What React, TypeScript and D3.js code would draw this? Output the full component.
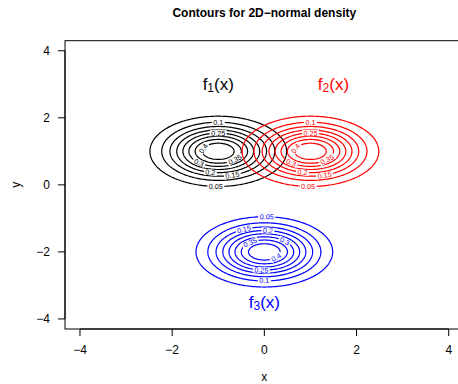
import React from "react";
import * as d3 from "d3";

const W = 458;
const H = 384;

// distributions
const meanX = [-1, 1, 0];
const meanY = [1, 1, -2];
const varX = [0.5, 0.5, 0.5];
const varY = [0.25, 0.25, 0.25];
const colors = ["black", "red", "blue"];
const levels = [0.05, 0.1, 0.15, 0.2, 0.25, 0.3, 0.35, 0.4];
// angle (deg) on each contour ellipse where R put the level label
const labelAngles = [
  [-92, 90, -73, -101, 90, -131, -44, 160],
  [-92, 90, -73, -101, 90, -131, -44, 160],
  [88, -90, 115, 85, -95, 46, 128, -42],
];
const fSubs = ["1", "2", "3"];
const fX = [-1, 1.5, 0];
const fY = [3, 3, -3.5];
const xTicks = [-4, -2, 0, 2, 4];
const yTicks = [-4, -2, 0, 2, 4];

const FONT = "'Liberation Sans', Arial, Helvetica, sans-serif";
const L = 65, R = 463.7, T = 40.7, B = 329;

const xs = d3.scaleLinear().domain([-4.325, 4.325]).range([L, R]);
const ys = d3.scaleLinear().domain([-4.3, 4.3]).range([B, T]);

const N = 300;
const G0 = -4.4, G1 = 4.4;
const step = (G1 - G0) / (N - 1);

function density(k: number, x: number, y: number) {
  const sx = Math.sqrt(varX[k]), sy = Math.sqrt(varY[k]);
  const dx = (x - meanX[k]) / sx, dy = (y - meanY[k]) / sy;
  return Math.exp(-0.5 * (dx * dx + dy * dy)) / (2 * Math.PI * sx * sy);
}

const fmt = (v: number) => String(v);
const charW = (s: string) =>
  s.split("").reduce((a, c) => a + (c === "." ? 0.278 : 0.556), 0);
const LFS = 7.2;

export default function App() {
  const geo = d3.geoPath(
    d3.geoTransform({
      point(u: number, v: number) {
        (this as any).stream.point(
          xs(G0 + (u - 0.5) * step),
          ys(G1 - (v - 0.5) * step)
        );
      },
    })
  );

  const groups = colors.map((col, k) => {
    const vals = new Array(N * N);
    for (let j = 0; j < N; j++) {
      const y = G1 - j * step;
      for (let i = 0; i < N; i++) {
        vals[j * N + i] = density(k, G0 + i * step, y);
      }
    }
    const cs = d3.contours().size([N, N]).thresholds(levels)(vals);
    const sx = Math.sqrt(varX[k]), sy = Math.sqrt(varY[k]);
    const P = 1 / (2 * Math.PI * sx * sy);
    const labels = levels.map((lv, li) => {
      const r = Math.sqrt(2 * Math.log(P / lv));
      const t = (labelAngles[k][li] * Math.PI) / 180;
      const px = xs(meanX[k] + sx * r * Math.cos(t));
      const py = ys(meanY[k] + sy * r * Math.sin(t));
      const A = Math.abs(xs(sx * r) - xs(0));
      const Bv = Math.abs(ys(sy * r) - ys(0));
      let ang = (Math.atan2(-Bv * Math.cos(t), -A * Math.sin(t)) * 180) / Math.PI;
      if (ang > 90) ang -= 180;
      if (ang < -90) ang += 180;
      const txt = fmt(lv);
      const w = charW(txt) * LFS;
      return { px, py, ang, txt, w };
    });
    return { col, k, cs, labels };
  });

  return (
    <svg width={W} height={H} style={{ display: "block", position: "absolute", left: 0, top: 0 }} fontFamily={FONT}>
      <rect x={0} y={0} width={W} height={H} fill="white" />
      <defs>
        {groups.map((g) => (
          <mask id={`m${g.k}`} key={g.k} maskUnits="userSpaceOnUse" x={0} y={0} width={W} height={H}>
            <rect x={0} y={0} width={W} height={H} fill="white" />
            {g.labels.map((lb, i) => (
              <rect
                key={i}
                x={lb.px - lb.w / 2 - 1.5}
                y={lb.py - 3}
                width={lb.w + 3}
                height={6}
                fill="black"
                transform={`rotate(${lb.ang},${lb.px},${lb.py})`}
              />
            ))}
          </mask>
        ))}
      </defs>

      <text x={264.3} y={13} textAnchor="middle" dominantBaseline="central" fontSize={12} fontWeight="bold">
        Contours for 2D−normal density
      </text>

      {groups.map((g) => (
        <g key={g.k}>
          <g mask={`url(#m${g.k})`}>
            {g.cs.map((c, i) => (
              <path key={i} d={geo(c as any) || ""} fill="none" stroke={g.col} strokeWidth={1.2} />
            ))}
          </g>
          {g.labels.map((lb, i) => (
            <text
              key={i}
              x={lb.px}
              y={lb.py}
              fontSize={LFS}
              fill={g.col}
              textAnchor="middle"
              dominantBaseline="central"
              transform={`rotate(${lb.ang},${lb.px},${lb.py})`}
            >
              {lb.txt}
            </text>
          ))}
          <text
            x={xs(fX[g.k])}
            y={ys(fY[g.k])}
            fontSize={17}
            fill={g.col}
            textAnchor="middle"
            dominantBaseline="central"
          >
            f<tspan fontSize={12} dy={4}>{fSubs[g.k]}</tspan>
            <tspan dy={-4}>(x)</tspan>
          </text>
        </g>
      ))}

      <rect x={L} y={T} width={R - L} height={B - T} fill="none" stroke="black" strokeWidth={1} />

      {/* x axis */}
      <line x1={xs(xTicks[0])} x2={xs(xTicks[xTicks.length - 1])} y1={B} y2={B} stroke="black" />
      {xTicks.map((t) => (
        <g key={t}>
          <line x1={xs(t)} x2={xs(t)} y1={B} y2={B + 7} stroke="black" />
          <text x={xs(t)} y={350} fontSize={12} textAnchor="middle" dominantBaseline="central">
            {t < 0 ? `−${-t}` : `${t}`}
          </text>
        </g>
      ))}
      {/* y axis */}
      <line x1={L} x2={L} y1={ys(yTicks[0])} y2={ys(yTicks[yTicks.length - 1])} stroke="black" />
      {yTicks.map((t) => (
        <g key={t}>
          <line x1={L - 7} x2={L} y1={ys(t)} y2={ys(t)} stroke="black" />
          <text x={50} y={ys(t)} fontSize={12} textAnchor="end" dominantBaseline="central">
            {t < 0 ? `−${-t}` : `${t}`}
          </text>
        </g>
      ))}
      <text x={264.3} y={377} fontSize={12} textAnchor="middle" dominantBaseline="central">x</text>
      <text x={16} y={184.8} fontSize={12} textAnchor="middle" dominantBaseline="central" transform="rotate(-90,16,184.8)">y</text>
    </svg>
  );
}
